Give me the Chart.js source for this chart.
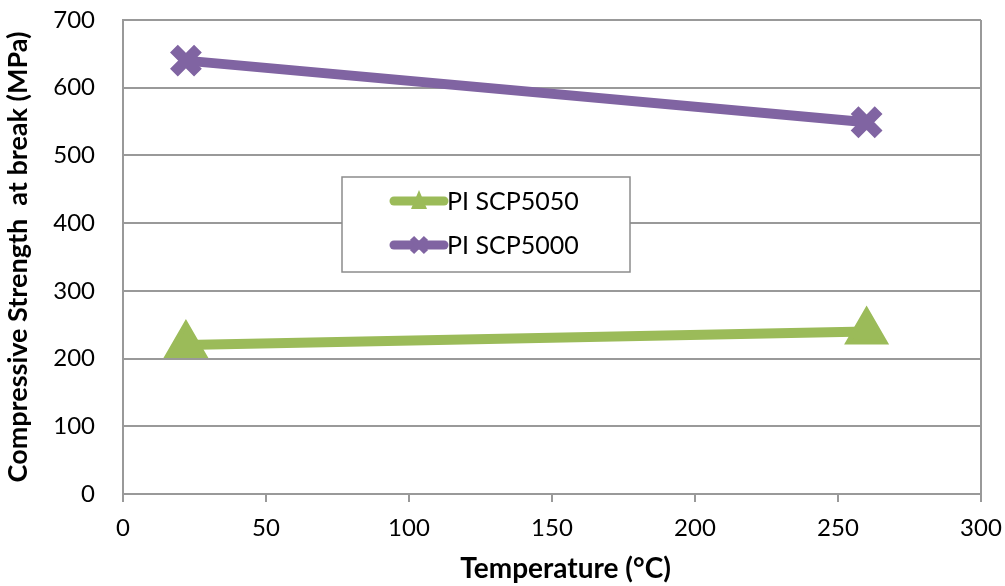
<!DOCTYPE html>
<html>
<head>
<meta charset="utf-8">
<script src="https://cdn.jsdelivr.net/npm/chart.js@4/dist/chart.umd.min.js"></script>
<style>
  html, body { margin: 0; padding: 0; background: #fff; }
  #wrap { width: 1005px; height: 586px; }
</style>
</head>
<body>
<div id="wrap"><canvas id="lineChart" width="1005" height="586"></canvas></div>
<script>
// values
var temperature = [22, 260];
var scp5050 = [220, 240];
var scp5000 = [640, 549];
var seriesNames = ['PI SCP5050', 'PI SCP5000'];
var xTicks = [0, 50, 100, 150, 200, 250, 300];
var yTicks = [0, 100, 200, 300, 400, 500, 600, 700];

var green = '#9BBB59';
var purple = '#8064A2';
var gridGray = '#999999';
var fontName = 'Lato, "Open Sans", sans-serif';

function toPoints(xs, ys) {
    return xs.map((x, i) => ({ x: x, y: ys[i] }));
}

// legend drawn as a box inside the plot, like the original
const boxLegend = {
    id: 'boxLegend',
    afterDraw(chart) {
        const ctx = chart.ctx;
        const left = 342, top = 177, w = 288, h = 95;
        ctx.save();
        ctx.fillStyle = '#fff';
        ctx.fillRect(left, top, w, h);
        ctx.strokeStyle = '#8c8c8c';
        ctx.lineWidth = 1.5;
        ctx.strokeRect(left, top, w, h);

        chart.data.datasets.forEach((ds, i) => {
            const y = top + 24 + i * 44;
            ctx.strokeStyle = ds.borderColor;
            ctx.lineWidth = 9;
            ctx.lineCap = 'round';
            ctx.beginPath();
            ctx.moveTo(394, y);
            ctx.lineTo(444, y);
            ctx.stroke();

            ctx.fillStyle = ds.borderColor;
            ctx.beginPath();
            if (i === 0) {
                ctx.moveTo(419, y - 11);
                ctx.lineTo(427, y + 8);
                ctx.lineTo(411, y + 8);
                ctx.closePath();
                ctx.fill();
            } else {
                ctx.lineWidth = 6;
                ctx.lineCap = 'butt';
                ctx.moveTo(412, y - 7); ctx.lineTo(426, y + 7);
                ctx.moveTo(426, y - 7); ctx.lineTo(412, y + 7);
                ctx.stroke();
            }

            ctx.fillStyle = '#000';
            ctx.font = '25px ' + fontName;
            ctx.textBaseline = 'middle';
            ctx.textAlign = 'left';
            ctx.fillText(ds.label, 447, y + 1);
        });
        ctx.restore();
    }
};

const ctx = document.getElementById('lineChart').getContext('2d');
new Chart(ctx, {
    type: 'scatter',
    data: {
        datasets: [
            {
                label: seriesNames[0],
                data: toPoints(temperature, scp5050),
                showLine: true,
                borderColor: green,
                backgroundColor: green,
                borderWidth: 10,
                pointStyle: 'triangle',
                pointRadius: 21,
                pointBorderWidth: 5,
                pointBorderColor: green,
                pointBackgroundColor: green
            },
            {
                label: seriesNames[1],
                data: toPoints(temperature, scp5000),
                showLine: true,
                borderColor: purple,
                backgroundColor: purple,
                borderWidth: 10,
                pointStyle: 'crossRot',
                pointRadius: 17,
                pointBorderWidth: 11,
                pointBorderColor: purple
            }
        ]
    },
    options: {
        responsive: false,
        animation: false,
        layout: { autoPadding: false, padding: { left: 0, top: 20, right: 24, bottom: 0 } },
        plugins: {
            legend: { display: false },
            tooltip: { enabled: false }
        },
        scales: {
            x: {
                type: 'linear',
                min: 0,
                max: 300,
                afterBuildTicks: (scale) => { scale.ticks = xTicks.map(v => ({ value: v })); },
                afterFit: (scale) => {
                    scale.height = 92;
                    scale.paddingLeft = 0;
                    scale.paddingRight = 0;
                },
                grid: {
                    color: (c) => (c.tick && c.tick.value === 300 ? gridGray : 'rgba(0,0,0,0)'),
                    lineWidth: 2,
                    drawTicks: true,
                    tickLength: 8,
                    tickColor: gridGray,
                    tickWidth: 2
                },
                border: { color: gridGray, width: 2 },
                ticks: {
                    color: '#000',
                    padding: 12,
                    font: { family: fontName, size: 24 }
                },
                title: {
                    display: true,
                    // leading spaces nudge the title right, as in the original
                    text: '    Temperature (°C)',
                    color: '#000',
                    padding: { top: 0, bottom: 0 },
                    font: { family: fontName, size: 28, weight: 'bold' }
                }
            },
            y: {
                type: 'linear',
                min: 0,
                max: 700,
                afterBuildTicks: (scale) => { scale.ticks = yTicks.map(v => ({ value: v })); },
                afterFit: (scale) => {
                    scale.width = 123;
                    scale.paddingTop = 0;
                    scale.paddingBottom = 0;
                },
                grid: {
                    color: gridGray,
                    lineWidth: 2,
                    drawTicks: false
                },
                border: { color: gridGray, width: 2 },
                ticks: {
                    color: '#000',
                    padding: 28,
                    font: { family: fontName, size: 24 }
                },
                title: {
                    display: true,
                    text: 'Compressive Strength  at break (MPa)',
                    color: '#000',
                    padding: { top: 2, bottom: 0 },
                    font: { family: fontName, size: 27, weight: 'bold' }
                }
            }
        }
    },
    plugins: [boxLegend]
});
</script>
</body>
</html>
